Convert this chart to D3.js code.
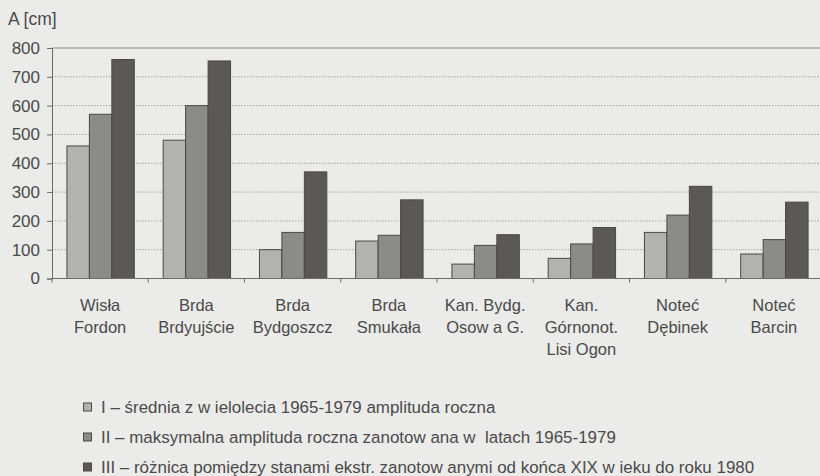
<!DOCTYPE html>
<html>
<head>
<meta charset="utf-8">
<script src="https://cdn.jsdelivr.net/npm/d3@7"></script>
<style>
  html, body { margin: 0; padding: 0; background: #ebebe9; }
  svg { display: block; }
  text { font-family: "Liberation Sans", Arial, sans-serif; fill: #4a4a4a; }
  .legend text { white-space: pre; }
</style>
</head>
<body>
<svg id="chart" width="820" height="476"></svg>
<script>
// Stations (two- or three-line labels)
const stations = [
  ["Wisła", "Fordon"],
  ["Brda", "Brdyujście"],
  ["Brda", "Bydgoszcz"],
  ["Brda", "Smukała"],
  ["Kan. Bydg.", "Osow a G."],
  ["Kan.", "Górnonot.", "Lisi Ogon"],
  ["Noteć", "Dębinek"],
  ["Noteć", "Barcin"]
];
// Amplitudes in cm
const seriesI   = [460, 480, 100, 130, 50, 70, 160, 85];
const seriesII  = [570, 600, 160, 150, 115, 120, 220, 135];
const seriesIII = [760, 755, 370, 273, 152, 177, 320, 265];
const yTicks = [0, 100, 200, 300, 400, 500, 600, 700, 800];
const legendLabels = [
  "I – średnia z w ielolecia 1965-1979 amplituda roczna",
  "II – maksymalna amplituda roczna zanotow ana w  latach 1965-1979",
  "III – różnica pomiędzy stanami ekstr. zanotow anymi od końca XIX w ieku do roku 1980"
];
const seriesKeys = ["I", "II", "III"];
const colors = ["#b2b2b0", "#8b8b89", "#5b5858"];

const rows = stations.map((s, i) => ({ id: i, I: seriesI[i], II: seriesII[i], III: seriesIII[i] }));

const svg = d3.select("#chart");
const plotLeft = 52, plotRight = 822, plotTop = 48, plotBottom = 278.5;

const x = d3.scaleBand().domain(rows.map(d => d.id)).range([plotLeft, plotRight]).paddingInner(0.3).paddingOuter(0.15);
const xs = d3.scaleBand().domain(seriesKeys).range([0, x.bandwidth()]);
const xCat = d3.scaleBand().domain(rows.map(d => d.id)).range([plotLeft, plotRight]);
const y = d3.scaleLinear().domain([0, 800]).range([plotBottom, plotTop]);

// dotted gridlines
svg.append("g").selectAll("line").data(yTicks.filter(t => t > 0 && t < 800)).join("line")
  .attr("x1", plotLeft).attr("x2", plotRight)
  .attr("y1", d => y(d)).attr("y2", d => y(d))
  .attr("stroke", "#a2a2a0").attr("stroke-width", 1).attr("stroke-dasharray", "1.5,1.5");

// top frame line
svg.append("line").attr("x1", plotLeft).attr("x2", plotRight).attr("y1", y(800)).attr("y2", y(800))
  .attr("stroke", "#8a8a88").attr("stroke-width", 1.2);

// bars
const groups = svg.append("g").selectAll("g").data(rows).join("g")
  .attr("transform", d => `translate(${x(d.id)},0)`);
groups.selectAll("rect").data(d => seriesKeys.map((k, j) => ({ k, j, v: d[k] }))).join("rect")
  .attr("x", d => xs(d.k) + 0.5)
  .attr("width", xs.bandwidth())
  .attr("y", d => y(d.v))
  .attr("height", d => y(0) - y(d.v))
  .attr("fill", d => colors[d.j])
  .attr("stroke", "#4a4848").attr("stroke-width", 1);

// y axis
const yAxis = svg.append("g").attr("transform", `translate(${plotLeft},0)`)
  .call(d3.axisLeft(y).tickValues(yTicks).tickSize(5).tickPadding(7));
yAxis.select(".domain").attr("stroke", "#6a6a68");
yAxis.selectAll(".tick line").attr("stroke", "#6a6a68");
yAxis.selectAll(".tick text").attr("font-size", 17).attr("fill", "#4a4a4a")
  .attr("font-family", "Liberation Sans, Arial, sans-serif");

// x axis with ticks between categories
const xAxisG = svg.append("g").attr("transform", `translate(0,${plotBottom})`);
xAxisG.append("line").attr("x1", plotLeft).attr("x2", plotRight).attr("stroke", "#6a6a68");
xAxisG.selectAll("line.tk").data(d3.range(stations.length + 1)).join("line").attr("class", "tk")
  .attr("x1", i => plotLeft + i * xCat.step()).attr("x2", i => plotLeft + i * xCat.step())
  .attr("y1", 0).attr("y2", 4).attr("stroke", "#6a6a68");

// category labels
const lab = svg.append("g").selectAll("text").data(stations).join("text")
  .attr("x", (d, i) => xCat(i) + xCat.bandwidth() / 2)
  .attr("y", 311)
  .attr("text-anchor", "middle")
  .attr("font-size", 16.5);
lab.selectAll("tspan").data(d => d).join("tspan")
  .attr("x", function () { return d3.select(this.parentNode).attr("x"); })
  .attr("dy", (d, i) => i === 0 ? 0 : 22)
  .text(d => d);

// axis title
svg.append("text").attr("x", 8).attr("y", 25).attr("font-size", 17.5).text("A [cm]");

// legend
const leg = svg.append("g").attr("class", "legend").selectAll("g").data(legendLabels).join("g")
  .attr("transform", (d, i) => `translate(83,${407 + i * 30})`);
leg.append("rect").attr("x", 0.5).attr("y", -4).attr("width", 8).attr("height", 8)
  .attr("fill", (d, i) => colors[i]).attr("stroke", "#4a4848");
leg.append("text").attr("transform", "translate(18,5.5) scale(1.04,1)").attr("font-size", 16.3)
  .text(d => d);
</script>
</body>
</html>
